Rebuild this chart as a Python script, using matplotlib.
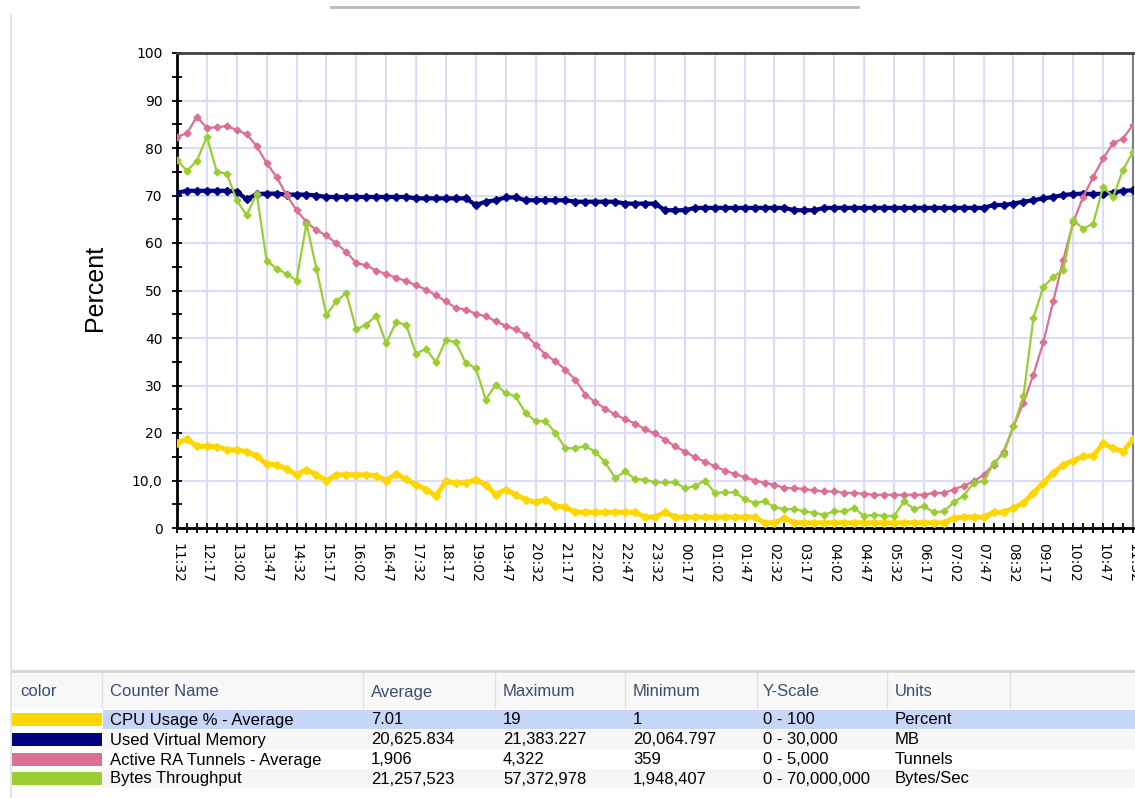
import numpy as np
import matplotlib.pyplot as plt
from matplotlib.patches import Rectangle
from matplotlib.lines import Line2D

# 15 minute samples from 11:32 to 11:32 next day (97 points), values in percent of Y-scale
cpu = [17.9, 18.7, 17.2, 17.2, 17.1, 16.5, 16.4, 16.1, 15.1, 13.5,
       13.3, 12.4, 11.2, 12.3, 11.2, 10.0, 11.2, 11.2, 11.2, 11.2,
       11.0, 10.0, 11.4, 10.3, 9.1, 8.1, 6.8, 9.8, 9.5, 9.5,
       10.2, 9.1, 7.0, 8.1, 7.0, 6.0, 5.4, 6.0, 4.6, 4.4,
       3.3, 3.3, 3.3, 3.3, 3.3, 3.3, 3.3, 2.3, 2.3, 3.3,
       2.3, 2.3, 2.3, 2.3, 2.3, 2.3, 2.3, 2.3, 2.3, 1.1,
       1.1, 2.1, 1.1, 1.1, 1.1, 1.1, 1.1, 1.1, 1.1, 1.1,
       1.1, 1.1, 1.1, 1.1, 1.1, 1.1, 1.1, 1.1, 2.1, 2.3,
       2.3, 2.3, 3.3, 3.3, 4.2, 5.3, 7.4, 9.5, 11.6, 13.3,
       14.2, 15.1, 15.2, 17.8, 16.8, 16.1, 18.7]

memory = [70.6, 71.0, 71.0, 71.0, 71.0, 71.0, 70.8, 69.2, 70.3, 70.4,
          70.4, 70.2, 70.2, 70.2, 70.0, 69.7, 69.7, 69.7, 69.7, 69.7,
          69.7, 69.7, 69.7, 69.7, 69.4, 69.4, 69.4, 69.4, 69.4, 69.4,
          68.0, 68.7, 69.0, 69.6, 69.6, 69.0, 69.0, 69.0, 69.0, 69.0,
          68.7, 68.7, 68.7, 68.7, 68.7, 68.3, 68.3, 68.3, 68.3, 66.9,
          66.9, 66.9, 67.4, 67.4, 67.4, 67.4, 67.4, 67.4, 67.4, 67.4,
          67.4, 67.4, 66.9, 66.9, 66.9, 67.4, 67.4, 67.4, 67.4, 67.4,
          67.4, 67.4, 67.4, 67.4, 67.4, 67.4, 67.4, 67.4, 67.4, 67.4,
          67.4, 67.4, 68.0, 68.0, 68.3, 68.7, 69.0, 69.4, 69.7, 70.1,
          70.3, 70.4, 70.3, 70.4, 70.6, 71.0, 71.1]

tunnels = [82.4, 83.1, 86.6, 84.2, 84.4, 84.6, 83.8, 82.9, 80.4, 76.8,
           73.9, 70.1, 66.9, 64.4, 62.7, 61.6, 59.9, 58.1, 55.8, 55.3,
           54.2, 53.5, 52.7, 52.0, 51.1, 50.2, 49.0, 47.7, 46.3, 46.0,
           45.1, 44.6, 43.5, 42.6, 41.8, 40.7, 38.6, 36.5, 35.1, 33.3,
           31.2, 28.1, 26.5, 25.1, 23.9, 22.9, 22.0, 20.8, 19.9, 18.6,
           17.2, 16.1, 14.9, 14.0, 13.0, 12.1, 11.4, 10.7, 10.0, 9.5,
           9.1, 8.4, 8.4, 8.2, 7.9, 7.7, 7.7, 7.4, 7.4, 7.2,
           7.0, 7.0, 7.0, 7.0, 7.0, 7.0, 7.4, 7.4, 8.1, 8.9,
           9.8, 11.2, 13.3, 16.1, 21.4, 26.3, 32.3, 39.1, 47.8, 56.5,
           64.4, 69.7, 73.9, 77.8, 81.0, 82.0, 84.9]

throughput = [77.5, 75.2, 77.3, 82.4, 75.0, 74.6, 69.0, 65.8, 70.4, 56.3,
              54.6, 53.5, 52.1, 64.1, 54.6, 44.9, 47.7, 49.5, 41.8, 42.8,
              44.7, 38.9, 43.3, 42.8, 36.7, 37.7, 34.9, 39.6, 39.1, 34.7,
              33.7, 27.0, 30.2, 28.4, 27.7, 24.2, 22.5, 22.5, 20.0, 16.8,
              16.8, 17.2, 16.1, 13.8, 10.5, 11.9, 10.3, 10.2, 9.6, 9.6,
              9.6, 8.4, 8.8, 10.0, 7.4, 7.5, 7.5, 6.1, 5.3, 5.6,
              4.4, 4.0, 4.0, 3.5, 3.2, 2.8, 3.5, 3.5, 4.2, 2.5,
              2.8, 2.6, 2.5, 5.6, 4.0, 4.6, 3.3, 3.5, 5.4, 6.8,
              9.5, 9.8, 13.7, 15.6, 21.4, 27.7, 44.2, 50.8, 52.8, 54.4,
              64.8, 63.0, 64.1, 71.8, 69.7, 75.4, 79.2]

time_labels = ['11:32', '12:17', '13:02', '13:47', '14:32', '15:17', '16:02', '16:47',
               '17:32', '18:17', '19:02', '19:47', '20:32', '21:17', '22:02', '22:47',
               '23:32', '00:17', '01:02', '01:47', '02:32', '03:17', '04:02', '04:47',
               '05:32', '06:17', '07:02', '07:47', '08:32', '09:17', '10:02', '10:47',
               '11:32']
y_ticks = [0, 10, 20, 30, 40, 50, 60, 70, 80, 90, 100]
y_tick_labels = ['0', '10,0', '20', '30', '40', '50', '60', '70', '80', '90', '100']

# legend table
counter_names = ['CPU Usage % - Average', 'Used Virtual Memory',
                 'Active RA Tunnels - Average', 'Bytes Throughput']
averages = ['7.01', '20,625.834', '1,906', '21,257,523']
maximums = ['19', '21,383.227', '4,322', '57,372,978']
minimums = ['1', '20,064.797', '359', '1,948,407']
y_scales = ['0 - 100', '0 - 30,000', '0 - 5,000', '0 - 70,000,000']
units = ['Percent', 'MB', 'Tunnels', 'Bytes/Sec']
headers = ['color', 'Counter Name', 'Average', 'Maximum', 'Minimum', 'Y-Scale', 'Units']
colors = ['#FFD700', '#000080', '#DB7093', '#9ACD32']

W, H = 1135, 798
fig = plt.figure(figsize=(W / 100, H / 100), dpi=100)
fig.patch.set_facecolor('white')


def fx(x):
    return x / W


def fy(y):
    return 1 - y / H


ax = fig.add_axes([fx(177), fy(528), fx(1133) - fx(177), fy(53) - fy(528)])

series = [cpu, memory, tunnels, throughput]
widths = [3.6, 3.0, 1.6, 1.6]
msizes = [4, 4.5, 3.5, 3.5]
x = np.arange(len(cpu))
for s, c, lw, ms in zip(series, colors, widths, msizes):
    ax.plot(x, s, color=c, lw=lw, marker='D', ms=ms, mec=c, mfc=c, zorder=3)

ax.set_xlim(0, 96)
ax.set_ylim(0, 100)
ax.set_xticks(np.arange(0, 97, 3))
ax.set_xticks(np.arange(0, 97, 1), minor=True)
ax.set_xticklabels(time_labels, rotation=270, family='DejaVu Sans', fontsize=10)
ax.set_yticks(y_ticks)
ax.set_yticks(np.arange(5, 100, 10), minor=True)
ax.set_yticklabels(y_tick_labels, family='DejaVu Sans', fontsize=10)
ax.tick_params(which='both', direction='inout', length=7, width=1.3, color='black')
ax.tick_params(axis='y', which='both', pad=7)
ax.tick_params(axis='x', which='both', pad=7)
ax.grid(True, which='major', color='#dcdcf4', lw=1.5, zorder=0)
ax.set_axisbelow(True)

for side in ['left', 'bottom']:
    ax.spines[side].set_color('black')
    ax.spines[side].set_linewidth(2)
ax.spines['top'].set_color('#404040')
ax.spines['top'].set_linewidth(2)
ax.spines['right'].set_color('#808080')
ax.spines['right'].set_linewidth(1.5)

fig.text(fx(95), fy(288), 'Percent', rotation=90, ha='center', va='center',
         family='Liberation Sans', fontsize=18)

# decorative frame lines
fig.add_artist(Line2D([fx(331), fx(858)], [fy(7), fy(7)], color='#b8b8b8', lw=2))
fig.add_artist(Line2D([fx(11), fx(11)], [fy(15), fy(798)], color='#e4e4e4', lw=1.5))

# table
fig.add_artist(Rectangle((fx(12), fy(709)), fx(1135) - fx(12), fy(673) - fy(709),
                         transform=fig.transFigure, fc='#f8f8f8', ec='none'))
fig.add_artist(Line2D([fx(12), fx(1135)], [fy(671), fy(671)], color='#d4d4d4', lw=2))
for sx in [102, 363, 495, 625, 757, 887, 1010]:
    fig.add_artist(Line2D([fx(sx), fx(sx)], [fy(673), fy(708)], color='#e2e2e2', lw=1))

col_x = [20, 110, 371, 503, 633, 763, 895]
for hx, h in zip(col_x, headers):
    fig.text(fx(hx), fy(692), h, ha='left', va='center', family='Liberation Sans',
             fontsize=12, color='#3a4c6e')

row_y = [720, 740, 760, 779]
row_bg = ['#c6d6f6', '#f6f6f6', 'white', '#f6f6f6']
for r in range(4):
    top = row_y[r] - 10
    fig.add_artist(Rectangle((fx(103), fy(top + 19)), fx(1135) - fx(103), fy(top) - fy(top + 19),
                             transform=fig.transFigure, fc=row_bg[r], ec='none'))
    fig.add_artist(Rectangle((fx(12), fy(row_y[r] + 6)), fx(102) - fx(12), fy(row_y[r] - 7) - fy(row_y[r] + 6),
                             transform=fig.transFigure, fc=colors[r], ec='none'))
    vals = [counter_names[r], averages[r], maximums[r], minimums[r], y_scales[r], units[r]]
    for vx, v in zip(col_x[1:], vals):
        fig.text(fx(vx), fy(row_y[r]), v, ha='left', va='center', family='Liberation Sans',
                 fontsize=12, color='black')

fig.savefig('out.png', dpi=100)
